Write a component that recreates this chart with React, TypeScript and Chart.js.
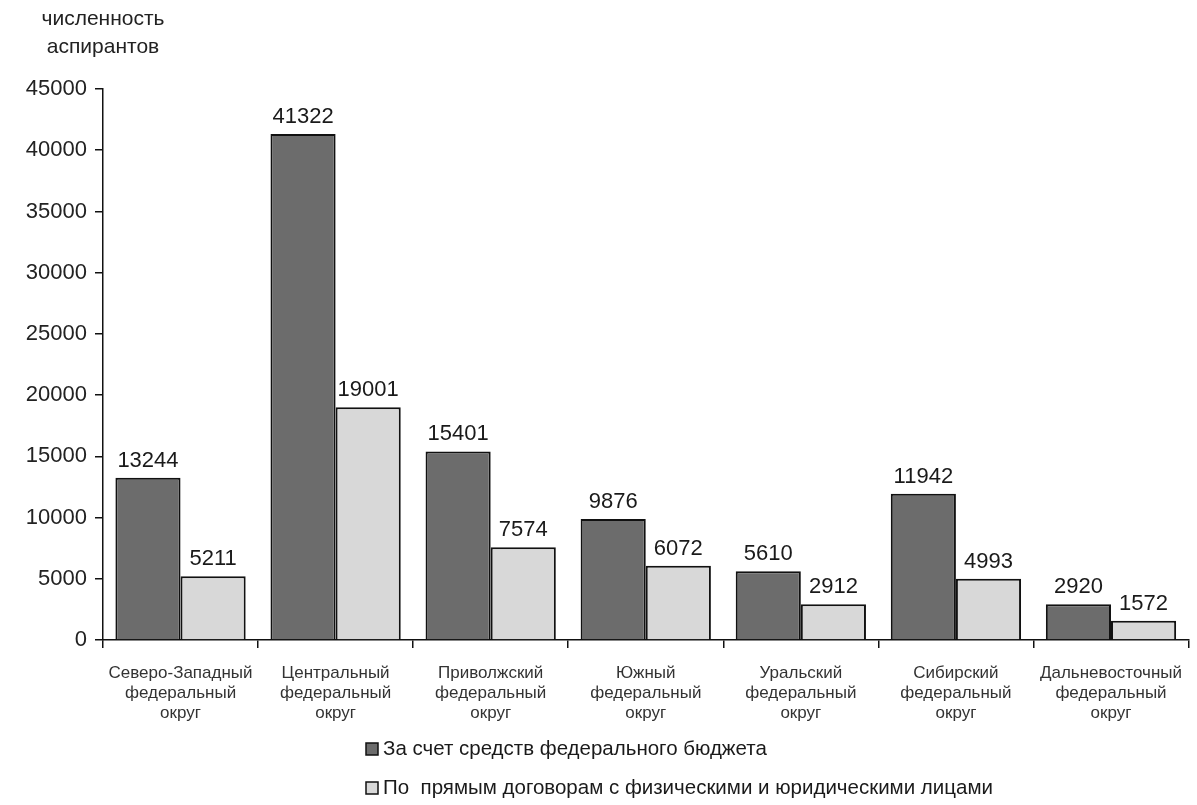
import React, { useEffect, useRef } from "react";
import { Chart, registerables } from "chart.js";

Chart.register(...registerables);

const categories: string[][] = [
  ["Северо-Западный", "федеральный", "округ"],
  ["Центральный", "федеральный", "округ"],
  ["Приволжский", "федеральный", "округ"],
  ["Южный", "федеральный", "округ"],
  ["Уральский", "федеральный", "округ"],
  ["Сибирский", "федеральный", "округ"],
  ["Дальневосточный", "федеральный", "округ"],
];
const budgetValues = [13244, 41322, 15401, 9876, 5610, 11942, 2920];
const contractValues = [5211, 19001, 7574, 6072, 2912, 4993, 1572];
const seriesNames = [
  "За счет средств федерального бюджета",
  "По  прямым договорам с физическими и юридическими лицами",
];
const axisTitle = ["численность", "аспирантов"];

const FONT = "'Liberation Sans', Arial, sans-serif";
const DARK = "#6c6c6c";
const LIGHT = "#d8d8d8";

const extrasPlugin = {
  id: "extras",
  afterDatasetsDraw(chart: any) {
    const ctx = chart.ctx;
    ctx.save();
    // data labels
    ctx.font = `22px ${FONT}`;
    ctx.fillStyle = "#1a1a1a";
    ctx.textAlign = "center";
    ctx.textBaseline = "bottom";
    chart.data.datasets.forEach((ds: any, di: number) => {
      const meta = chart.getDatasetMeta(di);
      meta.data.forEach((el: any, i: number) => {
        ctx.fillText(String(ds.data[i]), el.x, el.y - 6);
      });
    });
    // axis title
    ctx.font = `21px ${FONT}`;
    ctx.fillStyle = "#222";
    ctx.textBaseline = "middle";
    ctx.textAlign = "center";
    ctx.fillText(axisTitle[0], 103, 19);
    ctx.fillText(axisTitle[1], 103, 47);
    // legend
    const colors = [DARK, LIGHT];
    const ys = [749, 788];
    ctx.textAlign = "left";
    ctx.font = `20.5px ${FONT}`;
    seriesNames.forEach((name, i) => {
      ctx.fillStyle = colors[i];
      ctx.fillRect(366, ys[i] - 6, 12, 12);
      ctx.strokeStyle = "#111";
      ctx.lineWidth = 1.5;
      ctx.strokeRect(366, ys[i] - 6, 12, 12);
      ctx.fillStyle = "#1a1a1a";
      ctx.fillText(name, 383, ys[i]);
    });
    ctx.restore();
  },
};

export default function App() {
  const ref = useRef<HTMLCanvasElement | null>(null);
  useEffect(() => {
    if (!ref.current) return;
    const chart = new Chart(ref.current, {
      type: "bar",
      data: {
        labels: categories,
        datasets: [
          {
            label: seriesNames[0],
            data: budgetValues,
            backgroundColor: DARK,
            borderColor: "#111",
            borderWidth: 2,
            borderSkipped: "bottom",
            categoryPercentage: 0.84,
            barPercentage: 1.0,
          },
          {
            label: seriesNames[1],
            data: contractValues,
            backgroundColor: LIGHT,
            borderColor: "#111",
            borderWidth: 2,
            borderSkipped: "bottom",
            categoryPercentage: 0.84,
            barPercentage: 1.0,
          },
        ],
      },
      options: {
        animation: false,
        responsive: false,
        maintainAspectRatio: false,
        layout: { padding: { top: 89, left: 0, right: 0, bottom: 75 } },
        plugins: {
          legend: { display: false },
          tooltip: { enabled: false },
        },
        scales: {
          x: {
            grid: {
              display: true,
              drawOnChartArea: false,
              drawTicks: true,
              tickLength: 8,
              color: "#111",
              lineWidth: 1.5,
              offset: true,
            },
            border: { display: true, color: "#111", width: 1.5 },
            ticks: {
              color: "#333",
              font: { family: FONT, size: 17, lineHeight: 1.18 },
              padding: 15,
              maxRotation: 0,
              autoSkip: false,
            },
            afterFit(scale: any) {
              scale.height = 90;
            },
          },
          y: {
            min: 0,
            max: 45000,
            grid: {
              display: true,
              drawOnChartArea: false,
              drawTicks: true,
              tickLength: 8,
              color: "#111",
              lineWidth: 1.5,
            },
            border: { display: true, color: "#111", width: 1.5 },
            ticks: {
              stepSize: 5000,
              color: "#222",
              font: { family: FONT, size: 22 },
              padding: 8,
              callback: (v: any) => String(v),
            },
            afterFit(scale: any) {
              scale.width = 103;
            },
          },
        },
      },
      plugins: [extrasPlugin],
    });
    return () => chart.destroy();
  }, []);
  return (
    <div style={{ position: "absolute", left: 0, top: 0, width: 1197, height: 805, background: "#fff" }}>
      <canvas ref={ref} width={1197} height={805} style={{ width: 1197, height: 805, display: "block" }} />
    </div>
  );
}
